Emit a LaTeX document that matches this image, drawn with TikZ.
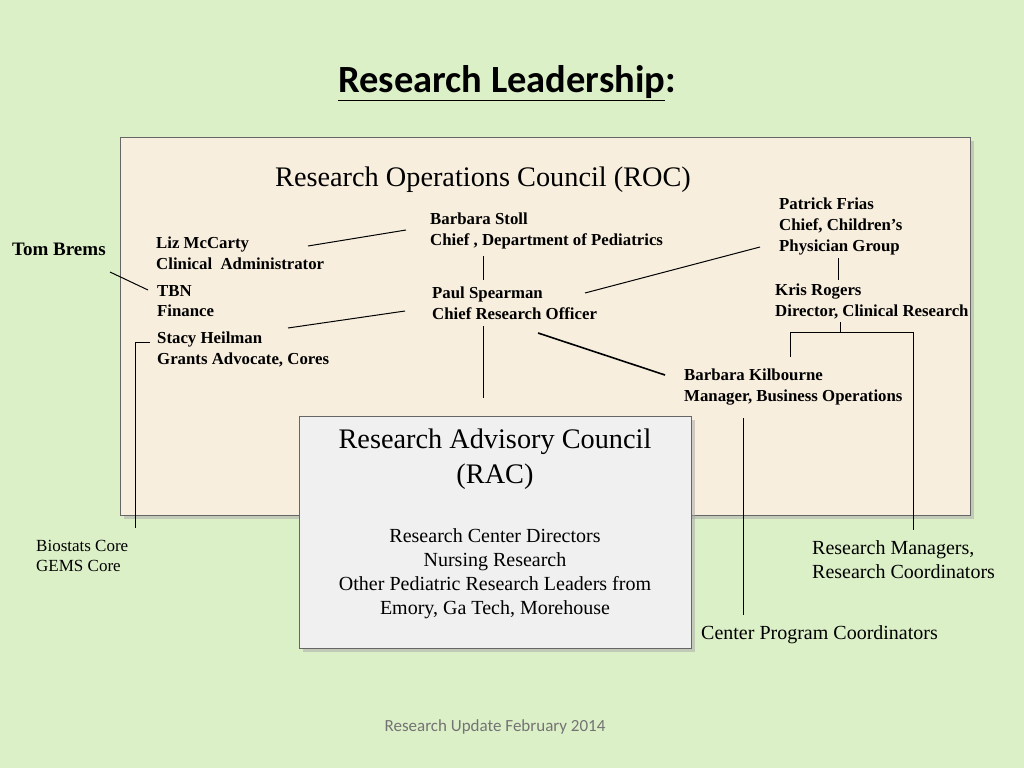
\documentclass[tikz,border=0pt]{standalone}
\usepackage{fontspec}
\setmainfont{Liberation Serif}
\newfontfamily\calfont{Carlito}
\usetikzlibrary{positioning,shadows}
\definecolor{slidebg}{HTML}{DCF0C8}
\definecolor{rocfill}{HTML}{F8EEDE}
\definecolor{racfill}{HTML}{F0F0F0}
\tikzset{
  person/.style={anchor=north west,align=left,inner sep=0pt,font=\fontsize{16.8}{20.7}\selectfont\bfseries},
  plain/.style={anchor=north west,align=left,inner sep=0pt,font=\fontsize{20}{24}\selectfont},
  panel/.style={draw=gray!80!black,line width=1pt,drop shadow={shadow xshift=4pt,shadow yshift=-4pt,fill=gray!70}},
  link/.style={line width=1pt}
}
\begin{document}
\begin{tikzpicture}[x=1pt,y=-1pt]
  \fill[slidebg] (0,0) rectangle (1024,768);
  \useasboundingbox (0,0) rectangle (1024,768);
  \node (title) [font=\calfont\fontsize{38.5}{44}\selectfont\bfseries] at (507,83) {\underline{Research Leadership}:};
  % council boxes
  \path[panel,fill=rocfill] (120,137) rectangle (970,515);
  \node (roc) [font=\fontsize{28.3}{32}\selectfont] at (483,180) {Research Operations Council (ROC)};
  % members
  \node (stoll) [person] at (430,213) {Barbara Stoll\\Chief , Department of Pediatrics};
  \node (frias) [person] at (779,198) {Patrick Frias\\Chief, Children's\\Physician Group};
  \node (brems) [person,font=\fontsize{19}{22}\selectfont\bfseries] at (12,243) {Tom Brems};
  \node (mccarty) [person] at (156,237) {Liz McCarty\\Clinical\ \ Administrator};
  \node (tbn) [person] at (157,285) {TBN\\Finance};
  \node (spearman) [person] at (432,287) {Paul Spearman\\Chief Research Officer};
  \node (rogers) [person] at (775,284) {Kris Rogers\\Director, Clinical Research};
  \node (heilman) [person] at (157,332) {Stacy Heilman\\Grants Advocate, Cores};
  \node (kilbourne) [person] at (684,369) {Barbara Kilbourne\\Manager, Business Operations};
  \path[panel,fill=racfill] (299,416) rectangle (691,648);
  \node (rac) [align=center,font=\fontsize{28.3}{35}\selectfont] at (495,459) {Research Advisory Council\\(RAC)};
  \node (racmembers) [align=center,font=\fontsize{20}{24}\selectfont] at (495,574) {Research Center Directors\\Nursing Research\\Other Pediatric Research Leaders from\\Emory, Ga Tech, Morehouse};
  \node (biostats) [plain,font=\fontsize{17}{20}\selectfont] at (36,540) {Biostats Core\\GEMS Core};
  \node (managers) [plain] at (812,540) {Research Managers,\\Research Coordinators};
  \node (cpc) [plain] at (701,625) {Center Program Coordinators};
  \node (footer) [font=\calfont\fontsize{17}{20}\selectfont,text=gray!90!black] at (495,727) {Research Update February 2014};
  % connectors
  \coordinate (bremsA) at (110,272); \coordinate (bremsB) at (148,290);
  \coordinate (lizA) at (308,246); \coordinate (lizB) at (406,230);
  \coordinate (stacyA) at (288,328); \coordinate (stacyB) at (405,311);
  \coordinate (stollA) at (483,256); \coordinate (stollB) at (483,280);
  \coordinate (paulA) at (483,326); \coordinate (paulB) at (483,398);
  \coordinate (paulC) at (538,333); \coordinate (kilbA) at (665,375);
  \coordinate (paulD) at (585,293); \coordinate (friasA) at (760,247);
  \coordinate (friasB) at (838,258); \coordinate (friasC) at (838,280);
  \coordinate (krisA) at (840,322); \coordinate (krisB) at (840,332);
  \coordinate (brA) at (790,357); \coordinate (brB) at (913,530);
  \coordinate (kilbB) at (743,418); \coordinate (kilbC) at (743,615);
  \coordinate (bioA) at (150,342); \coordinate (bioB) at (135,528);
  \draw[link] (bremsA) -- (bremsB);
  \draw[link] (lizA) -- (lizB);
  \draw[link] (stacyA) -- (stacyB);
  \draw[link] (stollA) -- (stollB);
  \draw[link] (paulA) -- (paulB);
  \draw[link,line width=1.6pt] (paulC) -- (kilbA);
  \draw[link] (paulD) -- (friasA);
  \draw[link] (friasB) -- (friasC);
  \draw[link] (krisA) -- (krisB);
  \draw[link] (brA) |- (brB |- krisB) -- (brB);
  \draw[link] (kilbB) -- (kilbC);
  \draw[link] (bioA) -| (bioB);
\end{tikzpicture}
\end{document}
